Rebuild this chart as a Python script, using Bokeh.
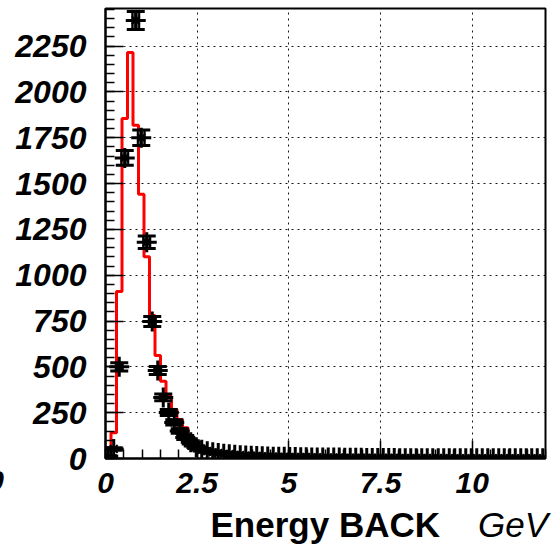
import numpy as np
from bokeh.plotting import figure
from bokeh.layouts import column, row
from bokeh.models import FixedTicker, ColumnDataSource, Range1d, Div
from bokeh.embed import file_html
from bokeh.resources import INLINE

# ---- data ----
bin_width = 0.15
x_min, x_max = 0.0, 12.0
data_counts = [12, 52, 500, 1640, 2700, 2390, 1750, 1180, 748, 480,
               333, 251, 197, 150, 115, 88, 62, 48, 40, 34,
               30, 26, 23, 20, 18, 16, 15, 14, 12, 11,
               10, 9, 9, 8, 8, 7, 7, 6, 6, 5,
               5, 5, 5, 4, 4, 4, 4, 3, 3, 3,
               3, 3, 3, 2, 2, 2, 2, 2, 2, 2,
               2, 2, 1, 1, 1, 1, 1, 1, 1, 1,
               1, 1, 1, 1, 1, 1, 1, 1, 1, 1]
mc_counts = [5, 140, 911, 1855, 2215, 1818, 1441, 1101, 780, 562,
             422, 338, 268, 213, 168, 118, 70, 52, 42, 36,
             31, 27, 24, 21, 19, 17, 15, 14, 12, 11,
             10, 9, 9, 8, 7, 7, 6, 6, 5, 5,
             5, 4, 4, 4, 4, 3, 3, 3, 3, 3,
             2, 2, 2, 2, 2, 2, 2, 2, 1, 1,
             1, 1, 1, 1, 1, 1, 1, 1, 1, 1,
             1, 1, 1, 1, 1, 1, 1, 1, 1, 1]
x_ticks = [0, 2.5, 5, 7.5, 10]
y_ticks = [0, 250, 500, 750, 1000, 1250, 1500, 1750, 2000, 2250]
y_top = 2455
x_title = "Energy BACK"
x_unit = "GeV"
stray_label = "0"

n_bins = int(round((x_max - x_min) / bin_width))
edges = x_min + bin_width * np.arange(n_bins + 1)
centers = 0.5 * (edges[:-1] + edges[1:])
dvals = np.array(data_counts, dtype=float)[:n_bins]
mvals = np.array(mc_counts, dtype=float)[:n_bins]
derr = np.sqrt(dvals)

W, H = 553, 551
TOP_H = 510
LEFT_W = 6
OVERLAP = 16
FONT = "Liberation Sans"

p = figure(width=W - LEFT_W, height=TOP_H, output_backend="svg", toolbar_location=None,
           x_range=Range1d(x_min, x_max), y_range=Range1d(0, y_top),
           min_border_left=105 - LEFT_W, min_border_right=8, min_border_top=8,
           min_border_bottom=TOP_H - 458)
p.margin = 0
p.background_fill_color = "white"
p.border_fill_color = "white"
p.outline_line_color = "black"
p.outline_line_width = 2

for ax in (p.xaxis[0], p.yaxis[0]):
    ax.axis_line_color = "black"
    ax.axis_line_width = 2
    ax.major_tick_line_color = "black"
    ax.minor_tick_line_color = "black"
    ax.major_tick_line_width = 1.5
    ax.minor_tick_line_width = 1.5
    ax.major_tick_out = 0
    ax.minor_tick_out = 0
    ax.major_label_text_font = FONT
    ax.major_label_text_font_style = "bold italic"
    ax.major_label_text_color = "black"
p.xaxis.major_label_text_font_size = "30px"
p.yaxis.major_label_text_font_size = "32px"

p.xaxis.ticker = FixedTicker(ticks=x_ticks, minor_ticks=list(np.arange(0, 12.01, 0.5)))
p.yaxis.ticker = FixedTicker(ticks=y_ticks, minor_ticks=list(range(0, 2451, 50)))
p.xaxis.major_tick_in = 18
p.xaxis.minor_tick_in = 9
p.yaxis.major_tick_in = 18
p.yaxis.minor_tick_in = 9
p.xaxis.major_label_standoff = 14
p.yaxis.major_label_standoff = 19

p.xgrid.ticker = FixedTicker(ticks=x_ticks)
p.ygrid.ticker = FixedTicker(ticks=y_ticks)
for g in (p.xgrid[0], p.ygrid[0]):
    g.grid_line_color = "black"
    g.grid_line_dash = "2 4"
    g.grid_line_width = 1
    g.grid_line_alpha = 0.9

# MC histogram (red step)
step_y = np.append(mvals, mvals[-1])
p.step(x=edges, y=step_y, mode="after", line_color="red", line_width=3)

# data points with error bars
src = ColumnDataSource(dict(x=centers, y=dvals, lo=dvals - derr, hi=dvals + derr, h=2 * derr))
p.rect(x="x", y="y", width=7, width_units="screen", height="h", source=src,
       fill_color="#666666", line_color="black", line_width=2)
p.scatter(x="x", y="lo", marker="dash", size=18, line_width=3, line_color="black", source=src)
p.scatter(x="x", y="hi", marker="dash", size=18, line_width=3, line_color="black", source=src)
p.scatter(x="x", y="y", marker="cross", size=20, line_width=3, line_color="black", source=src)
p.scatter(x="x", y="y", marker="x", size=11, line_width=2, line_color="black", source=src)

# narrow strip on the left holding the clipped stray "0"
stray_html = (
    f'<div style="position:relative;width:{LEFT_W}px;height:{TOP_H}px;overflow:hidden;'
    f'font-family:\'{FONT}\';">'
    f'<span style="position:absolute;right:2px;top:466px;font-size:30px;line-height:30px;'
    f'font-weight:bold;font-style:italic;color:black;white-space:nowrap;">{stray_label}</span></div>'
)
left = Div(text=stray_html, width=LEFT_W, height=TOP_H, margin=0, styles={"overflow": "hidden"})

# bottom strip with the axis title (overlaps the plot's empty bottom border a little)
bot_h = H - TOP_H + OVERLAP
title_html = (
    f'<div style="position:relative;width:{W}px;height:{bot_h}px;'
    f'font-family:\'{FONT}\';">'
    f'<span style="position:absolute;right:113px;top:{OVERLAP - 5}px;font-size:35px;line-height:40px;'
    f'font-weight:bold;color:black;white-space:nowrap;">{x_title}</span>'
    f'<span style="position:absolute;right:5px;top:{OVERLAP - 5}px;font-size:35px;line-height:40px;'
    f'font-style:italic;color:black;white-space:nowrap;">{x_unit}</span></div>'
)
bottom = Div(text=title_html, width=W, height=bot_h, margin=(-OVERLAP, 0, 0, 0))

layout = column(row(left, p, spacing=0), bottom, spacing=0)
open("out.html", "w").write(file_html(layout, INLINE))
